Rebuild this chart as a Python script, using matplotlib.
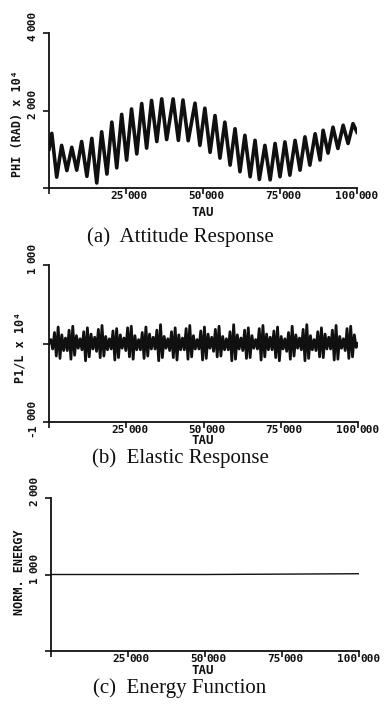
import matplotlib
matplotlib.use("Agg")
import matplotlib.pyplot as plt
import numpy as np

# (a) attitude response: extrema
att_peak_tau = [0.9, 4.1, 7.4, 10.6, 13.9, 17.1, 20.4, 23.6, 26.8, 30.1, 33.3,
                36.6, 40.3, 43.5, 47.4, 50.6, 53.9, 57.1, 60.4, 63.6, 66.9,
                70.1, 73.4, 76.6, 79.9, 83.1, 86.4, 89.0, 92.2, 95.5, 98.7]
att_peak_val = [1.41, 1.10, 1.05, 1.20, 1.28, 1.45, 1.70, 1.90, 2.04, 2.18, 2.26,
                2.30, 2.30, 2.27, 2.19, 2.06, 1.87, 1.70, 1.53, 1.36, 1.23,
                1.10, 1.15, 1.19, 1.23, 1.32, 1.40, 1.49, 1.57, 1.62, 1.66]
att_trough_tau = [2.5, 5.8, 9.0, 12.3, 15.5, 18.8, 22.0, 25.2, 28.5, 31.7,
                  35.0, 38.2, 42.0, 45.2, 49.0, 52.3, 55.5, 58.8, 62.0, 65.3,
                  68.3, 71.8, 75.0, 78.2, 81.5, 84.7, 88.0, 90.6, 93.8, 97.1]
att_trough_val = [0.28, 0.45, 0.46, 0.30, 0.13, 0.36, 0.52, 0.72, 0.88, 1.03,
                  1.20, 1.25, 1.23, 1.22, 1.10, 0.92, 0.77, 0.59, 0.42, 0.29,
                  0.22, 0.21, 0.29, 0.33, 0.46, 0.59, 0.72, 0.90, 1.02, 1.15]
att_start = (0.0, 1.0)
att_end = (100.0, 1.44)

# (b) elastic response: alternating extrema, one row per beat
elastic_rows = [
    [0.05, -0.07, 0.14, -0.16, 0.21, -0.19, 0.11, -0.09],
    [0.07, -0.09, 0.17, -0.20, 0.22, -0.15, 0.10, -0.06],
    [0.06, -0.08, 0.15, -0.22, 0.20, -0.17, 0.12, -0.07],
    [0.08, -0.10, 0.18, -0.18, 0.23, -0.16, 0.09, -0.08],
    [0.06, -0.07, 0.16, -0.21, 0.19, -0.18, 0.11, -0.06],
    [0.07, -0.09, 0.20, -0.17, 0.22, -0.20, 0.10, -0.08],
    [0.05, -0.08, 0.14, -0.19, 0.21, -0.16, 0.12, -0.07],
    [0.08, -0.07, 0.17, -0.22, 0.24, -0.18, 0.09, -0.06],
    [0.06, -0.09, 0.15, -0.18, 0.20, -0.21, 0.11, -0.08],
    [0.07, -0.08, 0.19, -0.20, 0.23, -0.17, 0.10, -0.07],
    [0.05, -0.07, 0.16, -0.21, 0.21, -0.19, 0.12, -0.06],
    [0.08, -0.10, 0.18, -0.17, 0.22, -0.16, 0.09, -0.08],
    [0.06, -0.08, 0.15, -0.22, 0.24, -0.20, 0.11, -0.07],
    [0.07, -0.09, 0.17, -0.19, 0.20, -0.18, 0.10, -0.06],
    [0.05, -0.07, 0.19, -0.21, 0.23, -0.17, 0.12, -0.08],
    [0.08, -0.08, 0.16, -0.18, 0.21, -0.22, 0.09, -0.07],
    [0.06, -0.10, 0.14, -0.20, 0.22, -0.16, 0.11, -0.06],
    [0.07, -0.08, 0.18, -0.22, 0.24, -0.19, 0.10, -0.08],
    [0.05, -0.09, 0.15, -0.17, 0.20, -0.18, 0.12, -0.07],
    [0.08, -0.07, 0.17, -0.21, 0.23, -0.20, 0.09, -0.06],
    [0.06, -0.09, 0.19, -0.19, 0.22, -0.17, 0.11, -0.05],
]

# (c) normalized energy
energy_tau = [0.0, 50.0, 100.0]
energy_val = [1.0, 1.0, 1.01]

x_ticks = [25, 50, 75, 100]

W, H = 384, 708
INK = "#101010"
MONO = "DejaVu Sans Mono"

fig = plt.figure(figsize=(W / 100, H / 100), dpi=100)
fig.patch.set_facecolor("white")


def add_axes_px(left, top, right, bottom):
    return fig.add_axes([left / W, 1 - bottom / H, (right - left) / W, (bottom - top) / H])


def style_axes(ax, ymin, ymax, yticks, ylabels):
    ax.set_facecolor("none")
    ax.spines["top"].set_visible(False)
    ax.spines["right"].set_visible(False)
    for side in ("left", "bottom"):
        ax.spines[side].set_linewidth(1.3)
        ax.spines[side].set_color(INK)
    ax.set_xlim(0, 100)
    ax.set_ylim(ymin, ymax)
    ax.set_xticks([0] + x_ticks)
    ax.set_xticklabels([])
    ax.set_yticks(yticks)
    ax.set_yticklabels([])
    ax.tick_params(direction="out", length=4, width=1.2, color=INK)
    kw = dict(fontsize=8, fontweight="bold", family=MONO, color=INK,
              textcoords="offset points", annotation_clip=False)
    for t in x_ticks:
        ax.annotate(str(t), xy=(t, 0), xycoords=("data", "axes fraction"),
                    xytext=(-1.2, -2.4), ha="right", va="top", **kw)
        ax.annotate("000", xy=(t, 0), xycoords=("data", "axes fraction"),
                    xytext=(1.2, -2.4), ha="left", va="top", **kw)
    for v, lab in zip(yticks, ylabels):
        if not lab:
            continue
        ax.annotate(lab, xy=(0, v), xycoords=("axes fraction", "data"),
                    xytext=(-12, -1.2), ha="center", va="top", rotation=90, **kw)
        ax.annotate("000", xy=(0, v), xycoords=("axes fraction", "data"),
                    xytext=(-12, 1.2), ha="center", va="bottom", rotation=90, **kw)


def fig_text(x, y, s, **kw):
    fig.text(x / W, 1 - y / H, s, ha="center", va="center", color=INK, **kw)


# (a) attitude response
ax1 = add_axes_px(49, 33, 357, 188)
style_axes(ax1, 0, 4, [0, 2, 4], ["", "2", "4"])
a_tau = [att_start[0]]
a_val = [att_start[1]]
for pt, pv, tt, tv in zip(att_peak_tau, att_peak_val, att_trough_tau, att_trough_val):
    a_tau += [pt, tt]
    a_val += [pv, tv]
a_tau += [att_peak_tau[-1], att_end[0]]
a_val += [att_peak_val[-1], att_end[1]]
ax1.plot(a_tau, a_val, color=INK, lw=2.6, solid_joinstyle="round")
fig_text(18, 124, "PHI (RAD) x 10⁴", rotation=90, fontsize=8.5,
         fontweight="bold", family=MONO)
fig_text(203, 212, "TAU", fontsize=9, fontweight="bold", family=MONO)
fig_text(180, 237, "(a)  Attitude Response", fontsize=15, family="Liberation Serif")

# (b) elastic response
ax2 = add_axes_px(49, 265, 358, 422)
style_axes(ax2, -1, 1, [-1, 0, 1], ["-1", "", "1"])
e_val = [0.0] + [v for row in elastic_rows for v in row] + [0.0]
e_tau = np.linspace(0, 100, len(e_val))
ax2.plot(e_tau, e_val, color=INK, lw=2.0)
fig_text(20, 347, "P1/L x 10⁴", rotation=90, fontsize=8.5,
         fontweight="bold", family=MONO)
fig_text(203, 441, "TAU", fontsize=9, fontweight="bold", family=MONO)
fig_text(180, 458, "(b)  Elastic Response", fontsize=15, family="Liberation Serif")

# (c) energy function
ax3 = add_axes_px(51, 498, 359, 651)
style_axes(ax3, 0, 2, [0, 1, 2], ["", "1", "2"])
ax3.plot(energy_tau, energy_val, color=INK, lw=1.0)
fig_text(20, 572, "NORM. ENERGY", rotation=90, fontsize=8.5,
         fontweight="bold", family=MONO)
fig_text(203, 670, "TAU", fontsize=9, fontweight="bold", family=MONO)
fig_text(180, 688, "(c)  Energy Function", fontsize=15, family="Liberation Serif")

fig.savefig("out.png", dpi=100, facecolor="white")
